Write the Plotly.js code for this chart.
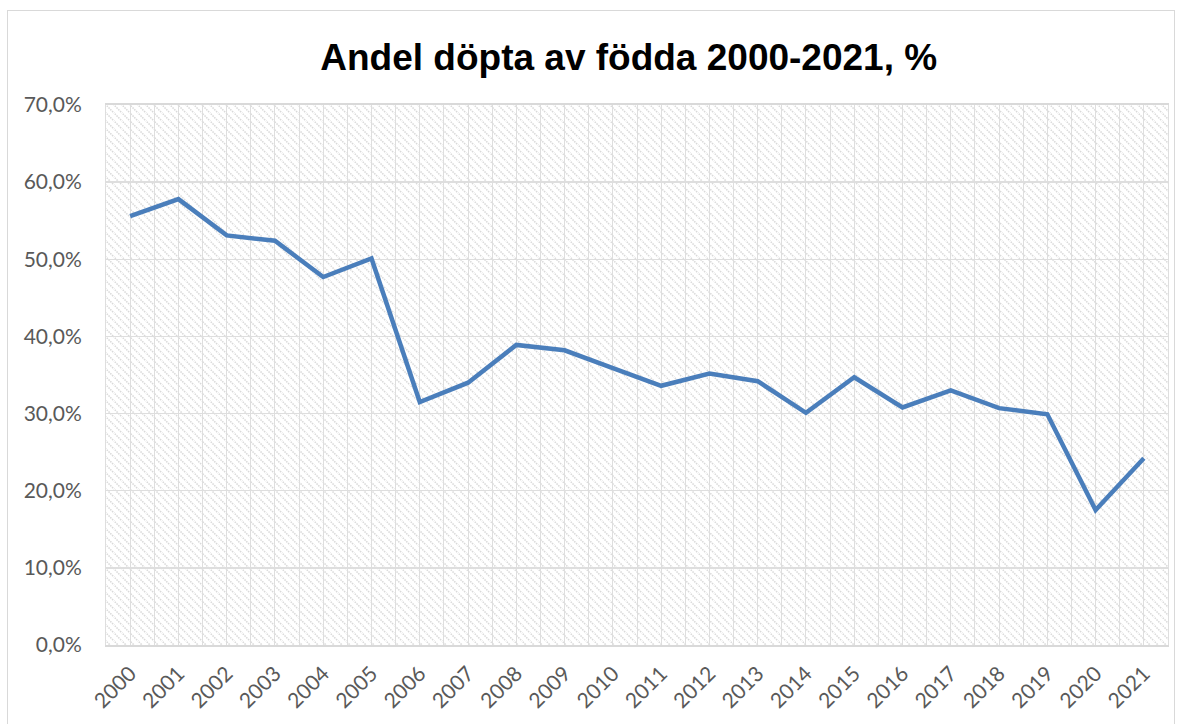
<!DOCTYPE html>
<html>
<head>
<meta charset="utf-8">
<script src="https://cdn.plot.ly/plotly-3.0.1.min.js"></script>
<style>
  html, body { margin: 0; padding: 0; background: #ffffff; }
  #wrap { position: relative; width: 1184px; height: 724px; overflow: hidden; }
  #frame { position: absolute; left: 7px; top: 10px; width: 1168px; height: 730px; border: 1px solid #d9d9d9; box-sizing: border-box; pointer-events: none; }
  #chart { position: absolute; left: 0; top: 0; width: 1184px; height: 724px; }
</style>
</head>
<body>
<div id="wrap">
  <div id="frame"></div>
  <div id="chart"></div>
</div>
<script>
const years = [2000, 2001, 2002, 2003, 2004, 2005, 2006, 2007, 2008, 2009, 2010,
               2011, 2012, 2013, 2014, 2015, 2016, 2017, 2018, 2019, 2020, 2021];
const sharePercent = [55.6, 57.8, 53.1, 52.4, 47.7, 50.1, 31.5, 34.0, 38.9, 38.2, 35.9,
                      33.6, 35.2, 34.2, 30.1, 34.7, 30.8, 33.0, 30.7, 29.9, 17.5, 24.2];
const yTicks = [0, 10, 20, 30, 40, 50, 60, 70];
const yTickLabels = ['0,0%', '10,0%', '20,0%', '30,0%', '40,0%', '50,0%', '60,0%', '70,0%'];
const titleText = 'Andel döpta av födda 2000-2021, %';

const hatchSvg =
  '<svg xmlns="http://www.w3.org/2000/svg" width="1062" height="540">' +
  '<defs><pattern id="p" width="8" height="8" patternUnits="userSpaceOnUse">' +
  '<path d="M-1,-1 L9,9 M-9,-1 L1,9 M7,-1 L17,9" stroke="#d9d9d9" stroke-width="1.5" stroke-dasharray="1.5,1"/>' +
  '</pattern></defs>' +
  '<rect width="100%" height="100%" fill="#ffffff"/>' +
  '<rect width="100%" height="100%" fill="url(#p)"/></svg>';
const hatchUri = 'data:image/svg+xml;base64,' + btoa(hatchSvg);

const trace = {
  x: years,
  y: sharePercent,
  type: 'scatter',
  mode: 'lines',
  line: { color: '#4a7ebb', width: 4.5 },
  hoverinfo: 'x+y'
};

const gridColor = '#dedede';
const tickFont = { family: 'Lato, Carlito, Calibri, sans-serif', size: 21, color: '#595959' };

const layout = {
  width: 1184,
  height: 724,
  margin: { l: 106, r: 16, t: 105, b: 79 },
  paper_bgcolor: 'rgba(0,0,0,0)',
  plot_bgcolor: '#ffffff',
  showlegend: false,
  title: {
    text: '<b>' + titleText + '</b>',
    font: { family: 'Liberation Sans, Arial, sans-serif', size: 37, color: '#000000' },
    xref: 'container', x: 0.531, xanchor: 'center',
    yref: 'container', y: 0.921, yanchor: 'middle'
  },
  xaxis: {
    type: 'linear',
    range: [years[0] - 0.5, years[years.length - 1] + 0.5],
    tickvals: years,
    ticktext: years.map(String),
    tickangle: -45,
    tickfont: tickFont,
    ticks: '',
    ticklabelstandoff: 6,
    showgrid: true,
    gridcolor: gridColor,
    gridwidth: 1,
    minor: { dtick: 0.5, tick0: years[0] - 0.5, showgrid: true, gridcolor: gridColor, gridwidth: 1, ticks: '' },
    showline: true,
    linecolor: '#d9d9d9',
    linewidth: 2,
    mirror: true,
    zeroline: false,
    fixedrange: true
  },
  yaxis: {
    range: [0, 70],
    tickvals: yTicks,
    ticktext: yTickLabels,
    tickfont: tickFont,
    ticks: '',
    ticklabelstandoff: 19,
    showgrid: true,
    gridcolor: gridColor,
    gridwidth: 1.5,
    showline: true,
    linecolor: gridColor,
    linewidth: 1,
    mirror: true,
    zeroline: false,
    fixedrange: true
  },
  images: [{
    source: hatchUri,
    xref: 'paper', yref: 'paper',
    x: 0, y: 1, sizex: 1, sizey: 1,
    xanchor: 'left', yanchor: 'top',
    sizing: 'stretch',
    layer: 'below'
  }]
};

Plotly.newPlot('chart', [trace], layout, { displayModeBar: false, staticPlot: true });
</script>
</body>
</html>
